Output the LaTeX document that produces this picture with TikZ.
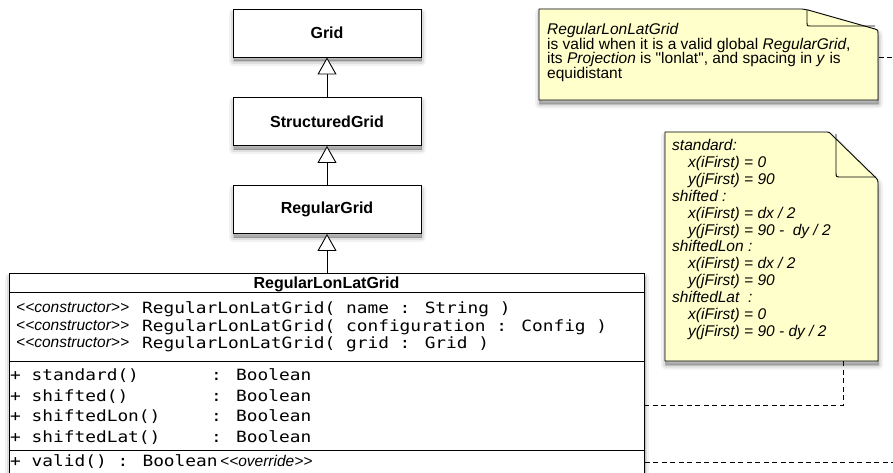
\documentclass[tikz,border=0pt]{standalone}
\usepackage{fontspec}
\setmainfont{Liberation Sans}[Ligatures=TeXOff]
\newfontfamily\monof[FakeStretch=1.15]{DejaVu Sans Mono}
\usetikzlibrary{arrows.meta}
\definecolor{notefill}{RGB}{255,255,204}
\begin{document}
\begin{tikzpicture}[x=1pt,y=-1pt,
  shadowed/.style={
    preaction={draw=black,fill=black,opacity=0.05,line width=9pt,line join=round,transform canvas={xshift=0.5pt,yshift=-4pt}},
    preaction={draw=black,fill=black,opacity=0.08,line width=5pt,line join=round,transform canvas={xshift=0.5pt,yshift=-4pt}},
    preaction={draw=black,fill=black,opacity=0.12,line width=1.5pt,line join=round,transform canvas={xshift=0.5pt,yshift=-4pt}}},
  cls/.style={draw=black,line width=0.9pt,fill=white,shadowed,minimum width=188pt,minimum height=48pt,
    inner sep=0pt,font=\fontsize{16}{18}\selectfont\bfseries},
  gen/.style={line width=0.9pt,-{Triangle[open,fill=white,width=19pt,length=17pt]}},
  dep/.style={line width=0.9pt,dash pattern=on 5pt off 3.5pt},
  notebox/.style={draw=black,line width=0.9pt,fill=notefill,shadowed,line join=round},
  row/.style={anchor=base west,inner sep=0pt},
  mono/.style={row,font=\monof\fontsize{15.5}{18}\selectfont},
  ital/.style={row,font=\fontsize{15.5}{17}\selectfont\itshape},
  ntext/.style={row,font=\fontsize{15.5}{17}\selectfont},
  nital/.style={row,font=\fontsize{15.5}{17}\selectfont\itshape}]
\clip (0,0) rectangle (893,472);

% class hierarchy
\node[cls] (grid) at (327,33) {Grid};
\node[cls] (structured) at (327,121.5) {StructuredGrid};
\node[cls] (regular) at (327,209.5) {RegularGrid};

\node[draw=black,line width=0.9pt,fill=white,shadowed,anchor=north west,
  minimum width=635pt,minimum height=215pt,inner sep=0pt] (lonlat) at (9,273) {};
\draw[line width=0.9pt] (lonlat.west |- 0,292) -- (lonlat.east |- 0,292);
\draw[line width=0.9pt] (lonlat.west |- 0,361) -- (lonlat.east |- 0,361);
\draw[line width=0.9pt] (lonlat.west |- 0,450) -- (lonlat.east |- 0,450);

\draw[gen] (structured) -- (grid);
\draw[gen] (regular) -- (structured);
\draw[gen] (lonlat.north -| regular.south) -- (regular);

% class content
\node[anchor=base,inner sep=0pt,font=\fontsize{16}{18}\selectfont\bfseries] (lname) at (326.5,288.5) {RegularLonLatGrid};
\node[ital] (c1s) at (16,312.5) {<<constructor>>};
\node[mono] (c1) at (142,313.5) {RegularLonLatGrid( name : String )};
\node[ital] (c2s) at (16,330) {<<constructor>>};
\node[mono] (c2) at (142,331) {RegularLonLatGrid( configuration : Config )};
\node[ital] (c3s) at (16,347.5) {<<constructor>>};
\node[mono] (c3) at (142,348.5) {RegularLonLatGrid( grid : Grid )};

\node[mono] (m1) at (10,380.5) {+ standard()};
\node[mono] (m1t) at (211,380.5) {: Boolean};
\node[mono] (m2) at (10,401) {+ shifted()};
\node[mono] (m2t) at (211,401) {: Boolean};
\node[mono] (m3) at (10,421.5) {+ shiftedLon()};
\node[mono] (m3t) at (211,421.5) {: Boolean};
\node[mono] (m4) at (10,442) {+ shiftedLat()};
\node[mono] (m4t) at (211,442) {: Boolean};
\node[mono] (v1) at (10,466.5) {+ valid() : Boolean};
\node[ital] (v1s) at (220,466) {<<override>>};

% note 1
\node[anchor=north west,minimum width=339pt,minimum height=91pt,inner sep=0pt] (note1) at (539,9) {};
\draw[notebox] (539,9) -- (802,9) .. controls (805,9) .. (808,10) -- (875,29)
  .. controls (878,30) .. (878,33) -- (878,100) -- (539,100) -- cycle;
\draw[line width=0.9pt,line join=round] (807,10) -- (807,23) .. controls (807,26) .. (810,26) -- (875,26);
\node[nital] (n1a) at (547,34.5) {RegularLonLatGrid};
\node[ntext] (n1b) at (547,49) {is valid when it is a valid global \textit{RegularGrid},};
\node[ntext] (n1c) at (547,63.5) {its \textit{Projection} is "lonlat", and spacing in \textit{y} is};
\node[ntext] (n1d) at (547,78) {equidistant};

% note 2
\node[anchor=north west,minimum width=213pt,minimum height=229pt,inner sep=0pt] (note2) at (665,132) {};
\draw[notebox] (665,132) -- (825,132) .. controls (829,132) .. (832,135) -- (875,177)
  .. controls (878,180) .. (878,185) -- (878,361) -- (665,361) -- cycle;
\draw[line width=0.9pt,line join=round] (836,134) -- (836,172) .. controls (836,177) .. (841,177) -- (876,177);
\node[nital] (n2l0) at (672,150.5) {standard:};
\node[nital] (n2l1) at (688,167.4) {x(iFirst) = 0};
\node[nital] (n2l2) at (688,184.3) {y(jFirst) = 90};
\node[nital] (n2l3) at (672,201.2) {shifted :};
\node[nital] (n2l4) at (688,218.1) {x(iFirst) = dx / 2};
\node[nital] (n2l5) at (688,235) {y(jFirst) = 90 -\ \ dy / 2};
\node[nital] (n2l6) at (672,251.9) {shiftedLon :};
\node[nital] (n2l7) at (688,268.8) {x(iFirst) = dx / 2};
\node[nital] (n2l8) at (688,285.7) {y(jFirst) = 90};
\node[nital] (n2l9) at (672,302.6) {shiftedLat\ \ :};
\node[nital] (n2l10) at (688,319.5) {x(iFirst) = 0};
\node[nital] (n2l11) at (688,336.4) {y(jFirst) = 90 - dy / 2};

% dependencies
\draw[dep] (note2.south -| 843,0) |- (lonlat.east |- 0,405.5);
\draw[dep] (lonlat.east |- 0,462.5) -| (910,57) -- (note1.east |- 0,57);
\end{tikzpicture}
\end{document}
